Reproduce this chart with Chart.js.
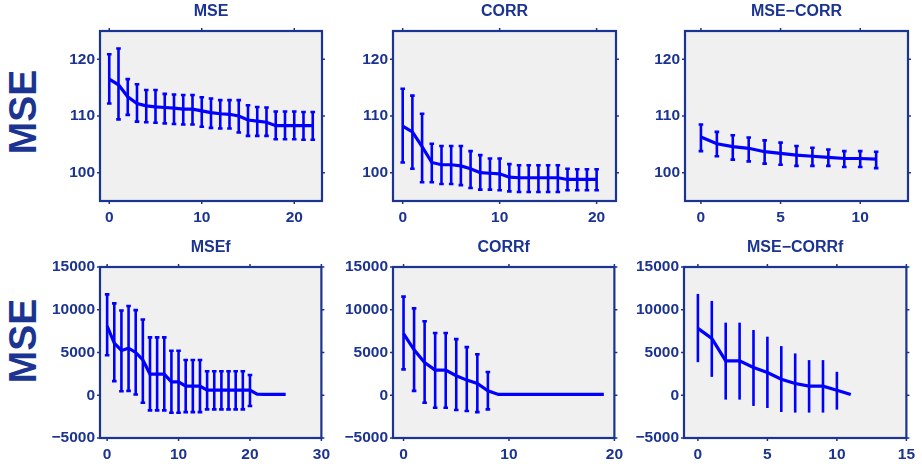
<!DOCTYPE html>
<html>
<head>
<meta charset="utf-8">
<script src="https://cdn.jsdelivr.net/npm/chart.js@4/dist/chart.umd.min.js"></script>
<style>
  html, body { margin:0; padding:0; background:#ffffff; }
  body { width:922px; height:464px; position:relative; overflow:hidden; font-family:"Liberation Sans", Arial, sans-serif; }
  .cw { position:absolute; }
  .big { position:absolute; font:bold 39px "Liberation Sans", Arial, sans-serif; color:#1c3491;
         transform:translate(-50%,-50%) rotate(-90deg); white-space:nowrap; line-height:1; }
</style>
</head>
<body>
<div class="big" style="left:22px; top:112px;">MSE</div>
<div class="big" style="left:22px; top:341px;">MSE</div>
<script>
// ---------------- DATA ----------------
const titles = ["MSE", "CORR", "MSE\u2212CORR", "MSEf", "CORRf", "MSE\u2212CORRf"];

const xMSE = [0,1,2,3,4,5,6,7,8,9,10,11,12,13,14,15,16,17,18,19,20,21,22];
const meanMSE  = [116.5,115.5,113.4,112.2,111.8,111.6,111.5,111.4,111.2,111.2,110.9,110.6,110.4,110.3,110.0,109.3,109.1,108.9,108.3,108.3,108.3,108.3,108.3];
const upperMSE = [120.9,121.9,116.5,115.6,114.6,114.6,113.9,113.8,113.7,113.7,113.3,113.1,112.8,112.8,112.8,111.9,111.6,111.5,110.8,110.8,110.8,110.7,110.7];
const lowerMSE = [112.2,109.4,110.2,109.0,108.9,108.8,108.7,108.6,108.5,108.5,108.1,107.9,107.8,107.8,107.1,106.5,106.5,106.5,105.9,105.9,105.9,105.8,105.8];

const xCORR = [0,1,2,3,4,5,6,7,8,9,10,11,12,13,14,15,16,17,18,19,20];
const meanCORR  = [108.2,107.2,104.6,101.8,101.4,101.4,101.2,100.7,100.0,99.9,99.8,99.2,99.1,99.1,99.1,99.1,99.1,98.8,98.8,98.8,98.8];
const upperCORR = [114.8,113.6,110.4,105.1,104.7,104.7,104.7,103.8,103.1,102.5,102.5,101.5,101.3,101.3,101.3,101.3,101.3,100.7,100.6,100.6,100.6];
const lowerCORR = [101.8,100.7,98.3,98.3,98.0,98.0,97.8,97.3,97.0,97.0,96.9,96.7,96.6,96.6,96.6,96.6,96.6,96.9,96.9,96.9,96.9];

const xMC = [0,1,2,3,4,5,6,7,8,9,10,11];
const meanMC  = [106.3,105.1,104.6,104.3,103.7,103.4,103.1,102.9,102.7,102.5,102.5,102.4];
const upperMC = [108.5,107.2,106.6,106.2,105.7,105.3,104.7,104.4,104.1,103.8,103.8,103.7];
const lowerMC = [103.8,102.9,102.3,102.0,101.6,101.4,101.2,101.2,101.2,101.0,101.0,100.8];

const xMSEf = [0,1,2,3,4,5,6,7,8,9,10,11,12,13,14,15,16,17,18,19,20,21,22,23,24,25];
const meanMSEf  = [8100,6100,5240,5510,5000,4130,2480,2480,2480,1570,1570,1060,1060,1060,590,590,590,590,590,590,590,120,100,100,100,100];
const upperMSEf = [11800,10750,9920,10430,9960,8860,6770,6770,6770,5200,5200,4130,4130,4130,2800,2800,2800,2800,2800,2800,2360,null,null,null,null,null];
const lowerMSEf = [4685,1650,470,510,80,-870,-1770,-1770,-1770,-2050,-2050,-1970,-1970,-1970,-1650,-1650,-1650,-1650,-1650,-1650,-1260,null,null,null,null,null];

const xCORRf = [0,1,2,3,4,5,6,7,8,9,10,11,12,13,14,15,16,17,18,19];
const meanCORRf  = [7200,5310,3820,2950,2950,2280,1770,1380,510,100,100,100,100,100,100,100,100,100,100,100];
const upperCORRf = [11540,10160,8660,7280,7280,6570,5630,4800,2720,null,null,null,null,null,null,null,null,null,null,null];
const lowerCORRf = [3030,510,-870,-1460,-1460,-1730,-1850,-1970,-1650,null,null,null,null,null,null,null,null,null,null,null];

const xMCf = [0,1,2,3,4,5,6,7,8,9,10,11];
const meanMCf  = [7820,6650,4030,4030,3250,2660,1880,1370,1060,1060,590,80];
const upperMCf = [11850,11030,8490,8490,7630,6850,5750,4890,4110,4110,2740,null];
const lowerMCf = [3870,2150,-510,-510,-1250,-1490,-1960,-2030,-2030,-2030,-1680,null];

const yTicksTop = [100,110,120];
const yTicksBottom = [-5000,0,5000,10000,15000];
const xTicks1 = [0,10,20];
const xTicks2 = [0,10,20];
const xTicks3 = [0,5,10];
const xTicks4 = [0,10,20,30];
const xTicks5 = [0,10,20];
const xTicks6 = [0,5,10,15];

// ---------------- STYLE / LAYOUT ----------------
const NAVY = '#1c3491';
const BLUE = '#0000ff';
const FONT = '"Liberation Sans", Arial, sans-serif';
const YAXW = 70, TITLEH = 31, XAXH = 26, RPAD = 14;

const panels = [
  {title:titles[0], x:xMSE,  m:meanMSE,  u:upperMSE,  l:lowerMSE,  xr:[-1,23], yr:[95,125],     xt:xTicks1, yt:yTicksTop,    caps:true,  rect:[100,31,322,201]},
  {title:titles[1], x:xCORR, m:meanCORR, u:upperCORR, l:lowerCORR, xr:[-1,22], yr:[95,125],     xt:xTicks2, yt:yTicksTop,    caps:true,  rect:[393,31,616,201]},
  {title:titles[2], x:xMC,   m:meanMC,   u:upperMC,   l:lowerMC,   xr:[-1,13], yr:[95,125],     xt:xTicks3, yt:yTicksTop,    caps:true,  rect:[685,31,908,201]},
  {title:titles[3], x:xMSEf, m:meanMSEf, u:upperMSEf, l:lowerMSEf, xr:[-1,30], yr:[-5000,15000], xt:xTicks4, yt:yTicksBottom, caps:true,  rect:[100,267,323,438]},
  {title:titles[4], x:xCORRf,m:meanCORRf,u:upperCORRf,l:lowerCORRf,xr:[-1,20], yr:[-5000,15000], xt:xTicks5, yt:yTicksBottom, caps:true,  rect:[393,267,616,438]},
  {title:titles[5], x:xMCf,  m:meanMCf,  u:upperMCf,  l:lowerMCf,  xr:[-1,15], yr:[-5000,15000], xt:xTicks6, yt:yTicksBottom, caps:false, rect:[684,267,908,438]},
];

const framePlugin = {
  id:'frame',
  beforeDraw(chart) {
    const a = chart.chartArea, c = chart.ctx;
    c.save(); c.fillStyle = '#f0f0f0';
    c.fillRect(a.left, a.top, a.right - a.left, a.bottom - a.top);
    c.restore();
  },
  afterDatasetsDraw(chart) {
    const c = chart.ctx, p = chart.options.plugins.frame;
    const xs = chart.scales.x, ys = chart.scales.y;
    c.save();
    c.strokeStyle = BLUE; c.lineWidth = 2.6; c.lineCap = 'butt';
    for (let i = 0; i < p.x.length; i++) {
      if (p.u[i] == null || p.l[i] == null) continue;
      const px = xs.getPixelForValue(p.x[i]);
      const pu = ys.getPixelForValue(p.u[i]);
      const pl = ys.getPixelForValue(p.l[i]);
      c.beginPath(); c.moveTo(px, pu); c.lineTo(px, pl); c.stroke();
      if (p.caps) {
        c.beginPath();
        c.moveTo(px - 2.3, pu); c.lineTo(px + 2.3, pu);
        c.moveTo(px - 2.3, pl); c.lineTo(px + 2.3, pl);
        c.stroke();
      }
    }
    c.restore();
  },
  afterDraw(chart) {
    const a = chart.chartArea, c = chart.ctx;
    const xs = chart.scales.x, ys = chart.scales.y;
    c.save();
    c.strokeStyle = NAVY; c.lineWidth = 2.2;
    c.strokeRect(a.left, a.top, a.right - a.left, a.bottom - a.top);
    c.lineWidth = 1.5;
    c.beginPath();
    xs.ticks.forEach(t => {
      const px = xs.getPixelForValue(t.value);
      c.moveTo(px, a.top); c.lineTo(px, a.top - 3);
      c.moveTo(px, a.bottom); c.lineTo(px, a.bottom + 3);
    });
    ys.ticks.forEach(t => {
      const py = ys.getPixelForValue(t.value);
      c.moveTo(a.left, py); c.lineTo(a.left - 3, py);
      c.moveTo(a.right, py); c.lineTo(a.right + 3, py);
    });
    c.stroke();
    c.restore();
  }
};

panels.forEach((p, idx) => {
  const [L, T, R, B] = p.rect;
  const div = document.createElement('div');
  div.className = 'cw';
  const w = (R - L) + YAXW + RPAD, h = (B - T) + TITLEH + XAXH;
  div.style.left = (L - YAXW) + 'px';
  div.style.top = (T - TITLEH) + 'px';
  div.style.width = w + 'px';
  div.style.height = h + 'px';
  const cv = document.createElement('canvas');
  div.appendChild(cv);
  document.body.appendChild(div);
  const xTickVals = p.xt, yTickVals = p.yt;
  new Chart(cv, {
    type:'line',
    data:{ datasets:[{
      data: p.x.map((v, i) => ({x:v, y:p.m[i]})),
      borderColor: BLUE, borderWidth: 3.2, pointRadius: 0, tension: 0, fill:false
    }]},
    options:{
      responsive:true, maintainAspectRatio:false, animation:false,
      layout:{ padding:{ left:0, right:RPAD, top:0, bottom:0 } },
      plugins:{
        legend:{ display:false }, tooltip:{ enabled:false },
        title:{ display:true, text:p.title, fullSize:false, color:NAVY,
                font:{ family:FONT, size:16, weight:'bold', lineHeight:1.2 },
                padding:{ top:2, bottom:9.8 } },
        frame:{ x:p.x, u:p.u, l:p.l, caps:p.caps }
      },
      scales:{
        x:{ type:'linear', min:p.xr[0], max:p.xr[1],
            grid:{ display:false, drawTicks:false }, border:{ display:false },
            afterBuildTicks:(s) => { s.ticks = xTickVals.map(v => ({value:v})); },
            afterFit:(s) => { s.height = XAXH; },
            ticks:{ color:NAVY, padding:7, maxRotation:0, autoSkip:false,
                    font:{ family:FONT, size:15.5, weight:'bold' },
                    callback:(v) => String(v) } },
        y:{ type:'linear', min:p.yr[0], max:p.yr[1],
            grid:{ display:false, drawTicks:false }, border:{ display:false },
            afterBuildTicks:(s) => { s.ticks = yTickVals.map(v => ({value:v})); },
            afterFit:(s) => { s.width = YAXW; },
            ticks:{ color:NAVY, padding:5, autoSkip:false,
                    font:{ family:FONT, size:15.5, weight:'bold' },
                    callback:(v) => (v < 0 ? '\u2212' + Math.abs(v) : String(v)) } }
      }
    },
    plugins:[framePlugin]
  });
});
</script>
</body>
</html>
